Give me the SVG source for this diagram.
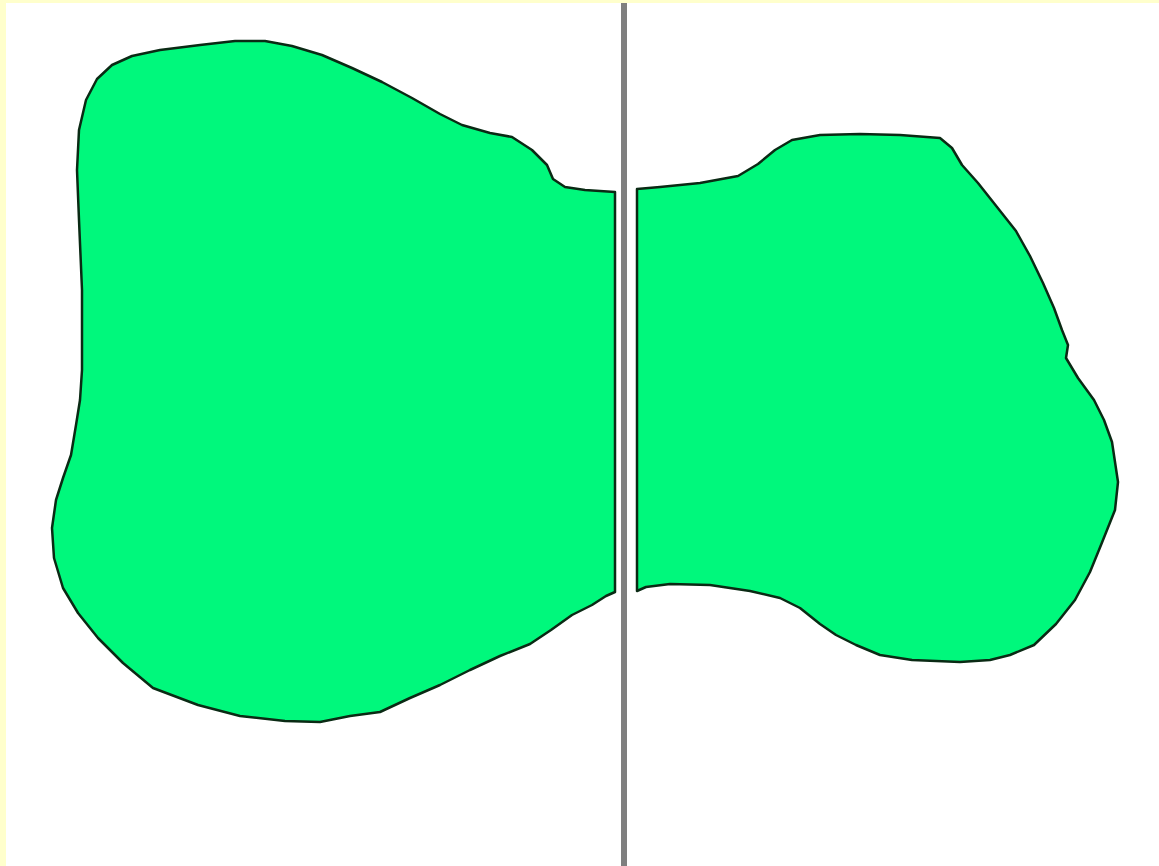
<svg xmlns="http://www.w3.org/2000/svg" width="1159" height="866" viewBox="0 0 1159 866">
<style>
.blob{fill:#00f87c;stroke:#0a2a14;stroke-width:2.5;stroke-linejoin:round}
</style>
<rect x="0" y="0" width="1159" height="866" fill="#ffffcc"/>
<rect x="6" y="3" width="1153" height="863" fill="#ffffff"/>
<g id="left-blob">
<path class="blob" d="M615,192 L585,190 L565,187 L553,179 L547,165 L532,150 L512,137 L490,133 L462,125 L440,114 L412,98 L382,82 L352,68 L322,55 L292,46 L265,41 L235,41 L200,45 L160,50 L132,56 L112,65 L97,79 L86,100 L79,130 L77,170 L79,220 L82,290 L82,370 L80,400 L76,425 L71,455 L63,478 L56,500 L52,528 L54,558 L63,588 L78,613 L98,638 L123,663 L153,688 L198,705 L240,716 L285,721 L320,722 L350,716 L380,712 L410,698 L440,685 L470,670 L500,656 L530,644 L551,630 L572,615 L592,605 L606,596 L615,592 Z"/>
</g>
<g id="right-blob">
<path class="blob" d="M637,189 L660,187 L700,183 L738,176 L758,164 L775,150 L792,140 L820,135 L860,134 L900,135 L940,138 L952,148 L962,165 L978,183 L997,207 L1016,231 L1030,256 L1043,283 L1054,308 L1062,330 L1068,345 L1066,358 L1078,378 L1094,400 L1104,420 L1112,442 L1118,482 L1115,510 L1101,545 L1090,572 L1075,600 L1056,624 L1034,645 L1010,655 L990,660 L960,662 L912,660 L880,655 L856,645 L836,635 L820,624 L800,608 L780,598 L750,591 L710,585 L670,584 L646,587 L637,591 Z"/>
</g>
<g id="divider">
<rect x="621" y="3" width="6" height="863" fill="#7f7f7f"/>
</g>
</svg>
